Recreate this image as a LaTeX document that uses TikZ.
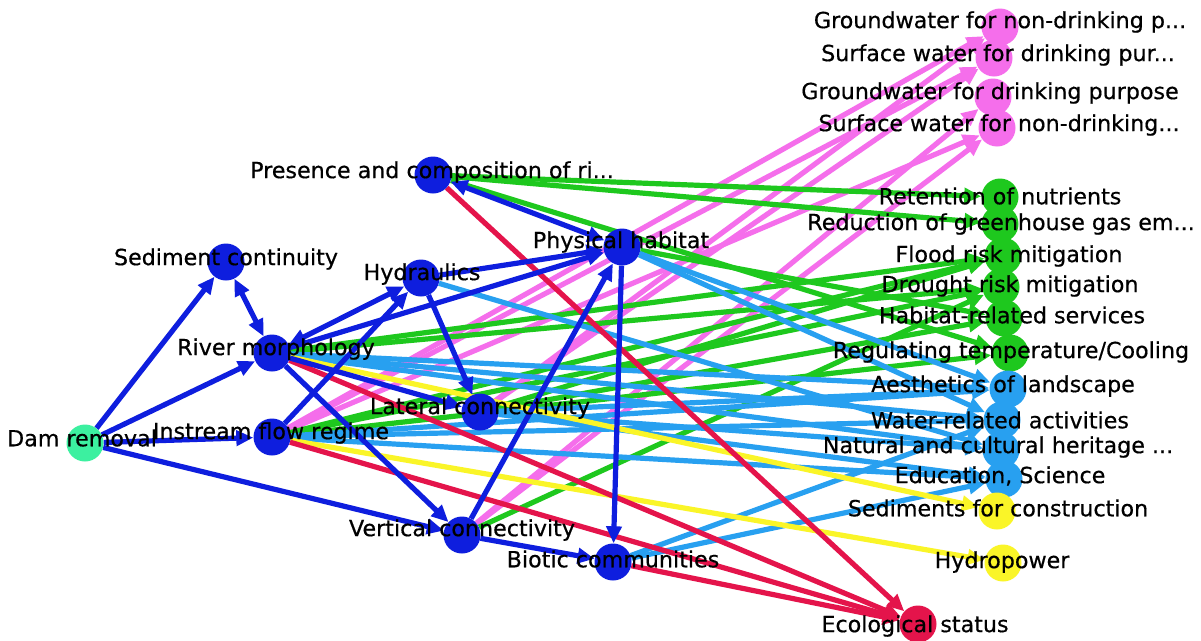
\documentclass[tikz,border=0pt]{standalone}
\usepackage{fontspec}
\setmainfont{DejaVu Sans}
\newfontfamily\labfont{DejaVu Sans}[FakeBold=0.5]
\usetikzlibrary{arrows.meta}
\definecolor{dblue}{RGB}{14,30,222}
\definecolor{egreen}{RGB}{30,200,30}
\definecolor{epink}{RGB}{245,110,235}
\definecolor{lblue}{RGB}{40,160,240}
\definecolor{eyellow}{RGB}{250,245,40}
\definecolor{ered}{RGB}{228,20,75}
\definecolor{mint}{RGB}{60,240,160}
\pgfdeclarelayer{edgelayer}
\pgfdeclarelayer{textlayer}
\pgfsetlayers{edgelayer,main,textlayer}
\begin{document}
\begin{tikzpicture}[x=1pt,y=-1pt,
  >={Triangle[length=17pt,width=15pt]},
  vtx/.style={circle,minimum size=37pt,inner sep=0pt,draw=none},
  lab/.style={inner sep=0pt,font=\labfont\fontsize{22.2}{26}\selectfont,text=black},
  ed/.style={line width=5.2pt,->},
  bd/.style={line width=5.2pt,<->}]
\useasboundingbox (0,0) rectangle (1201,640);

% driver and intermediate nodes
\node[vtx,fill=mint]  (dam)   at (85,443)  {};
\node[vtx,fill=dblue] (sed)   at (226,262) {};
\node[vtx,fill=dblue] (morph) at (272,353) {};
\node[vtx,fill=dblue] (flow)  at (272,437) {};
\node[vtx,fill=dblue] (hyd)   at (421,278) {};
\node[vtx,fill=dblue] (pres)  at (433,175) {};
\node[vtx,fill=dblue] (ph)    at (622,247) {};
\node[vtx,fill=dblue] (lat)   at (480,412) {};
\node[vtx,fill=dblue] (vert)  at (462,535) {};
\node[vtx,fill=dblue] (bio)   at (613,562) {};

% ecosystem services
\node[vtx,fill=epink] (gwnd) at (1000,27)  {};
\node[vtx,fill=epink] (swd)  at (994,58)   {};
\node[vtx,fill=epink] (gwd)  at (993,97)   {};
\node[vtx,fill=epink] (swnd) at (997,128)  {};
\node[vtx,fill=egreen] (ret)     at (1000,197) {};
\node[vtx,fill=egreen] (ghg)     at (1000,224) {};
\node[vtx,fill=egreen] (flood)   at (1003,256) {};
\node[vtx,fill=egreen] (drought) at (1001,287) {};
\node[vtx,fill=egreen] (habs)    at (1004,318) {};
\node[vtx,fill=egreen] (regt)    at (1010,353) {};
\node[vtx,fill=lblue] (aes) at (1008,389) {};
\node[vtx,fill=lblue] (wat) at (1002,420) {};
\node[vtx,fill=lblue] (nat) at (1001,450) {};
\node[vtx,fill=lblue] (edu) at (1004,479) {};
\node[vtx,fill=eyellow] (sedc)  at (997,511) {};
\node[vtx,fill=eyellow] (hydro) at (1003,563) {};
\node[vtx,fill=ered] (eco) at (918,624) {};

\begin{pgfonlayer}{edgelayer}
\fill[white] (0,0) rectangle (1201,640);
% pink: provisioning (water)
\draw[ed,epink] (flow) -- (gwnd);
\draw[ed,epink] (flow) -- (swd);
\draw[ed,epink] (flow) -- (swnd);
\draw[ed,epink] (lat) -- (gwnd);
\draw[ed,epink] (lat) -- (swd);
\draw[ed,epink] (vert) -- (gwd);
\draw[ed,epink] (vert) -- (swnd);
% green: regulating services
\draw[ed,egreen] (pres) -- (ret);
\draw[ed,egreen] (pres) -- (ghg);
\draw[ed,egreen] (pres) -- (regt);
\draw[ed,egreen] (ph) -- (habs);
\draw[ed,egreen] (morph) -- (flood);
\draw[ed,egreen] (morph) -- (drought);
\draw[ed,egreen] (flow) -- (flood);
\draw[ed,egreen] (flow) -- (drought);
\draw[ed,egreen] (flow) -- (regt);
\draw[ed,egreen] (lat) -- (flood);
\draw[ed,egreen] (lat) -- (habs);
\draw[ed,egreen] (vert) -- (drought);
% light blue: cultural services
\draw[ed,lblue] (morph) -- (aes);
\draw[ed,lblue] (morph) -- (wat);
\draw[ed,lblue] (morph) -- (nat);
\draw[ed,lblue] (flow) -- (aes);
\draw[ed,lblue] (flow) -- (wat);
\draw[ed,lblue] (flow) -- (edu);
\draw[ed,lblue] (lat) -- (aes);
\draw[ed,lblue] (lat) -- (nat);
\draw[ed,lblue] (lat) -- (edu);
\draw[ed,lblue] (hyd) -- (nat);
\draw[ed,lblue] (ph) -- (aes);
\draw[ed,lblue] (ph) -- (wat);
\draw[ed,lblue] (bio) -- (wat);
\draw[ed,lblue] (bio) -- (edu);
% yellow: materials and energy
\draw[ed,eyellow] (morph) -- (sedc);
\draw[ed,eyellow] (flow) -- (hydro);
% red: ecological status
\draw[ed,ered] (pres) -- (eco);
\draw[ed,ered] (morph) -- (eco);
\draw[ed,ered] (flow) -- (eco);
\draw[ed,ered] (bio) -- (eco);
% dark blue: physical and biological processes
\draw[ed,dblue] (dam) -- (sed);
\draw[ed,dblue] (dam) -- (morph);
\draw[ed,dblue] (dam) -- (flow);
\draw[ed,dblue] (dam) -- (vert);
\draw[bd,dblue] (sed) -- (morph);
\draw[bd,dblue] (hyd) -- (morph);
\draw[ed,dblue] (morph) -- (ph);
\draw[ed,dblue] (flow) -- (hyd);
\draw[ed,dblue] (hyd) -- (lat);
\draw[ed,dblue] (hyd) -- (ph);
\draw[ed,dblue] (morph) -- (lat);
\draw[ed,dblue] (morph) -- (vert);
\draw[bd,dblue] (pres) -- (ph);
\draw[ed,dblue] (vert) -- (ph);
\draw[ed,dblue] (ph) -- (bio);
\draw[ed,dblue] (vert) -- (bio);
\end{pgfonlayer}

\begin{pgfonlayer}{textlayer}
\node[lab] (tdam)   at (82,438)  {Dam removal};
\node[lab] (tsed)   at (226,259) {Sediment continuity};
\node[lab] (tmorph) at (276,349) {River morphology};
\node[lab] (tflow)  at (271,433) {Instream flow regime};
\node[lab] (thyd)   at (422,274) {Hydraulics};
\node[lab] (tpres)  at (432,172) {Presence and composition of ri...};
\node[lab] (tph)    at (621,242) {Physical habitat};
\node[lab] (tlat)   at (480,408) {Lateral connectivity};
\node[lab] (tvert)  at (462,530) {Vertical connectivity};
\node[lab] (tbio)   at (613,559) {Biotic communities};
\node[lab] (tgwnd)  at (1000,22)  {Groundwater for non-drinking p...};
\node[lab] (tswd)   at (998,55)   {Surface water for drinking pur...};
\node[lab] (tgwd)   at (990,93)   {Groundwater for drinking purpose};
\node[lab] (tswnd)  at (999,125)  {Surface water for non-drinking...};
\node[lab] (tret)   at (1000,196) {Retention of nutrients};
\node[lab] (tghg)   at (1001,224) {Reduction of greenhouse gas em...};
\node[lab] (tflood) at (1009,256) {Flood risk mitigation};
\node[lab] (tdro)   at (1010,286) {Drought risk mitigation};
\node[lab] (thabs)  at (1012,315) {Habitat-related services};
\node[lab] (tregt)  at (1011,352) {Regulating temperature/Cooling};
\node[lab] (taes)   at (1003,386) {Aesthetics of landscape};
\node[lab] (twat)   at (1000,420) {Water-related activities};
\node[lab] (tnat)   at (998,447)  {Natural and cultural heritage ...};
\node[lab] (tedu)   at (1000,476) {Education, Science};
\node[lab] (tsedc)  at (998,508)  {Sediments for construction};
\node[lab] (thydro) at (1002,562) {Hydropower};
\node[lab] (teco)   at (915,626)  {Ecological status};
\end{pgfonlayer}
\end{tikzpicture}
\end{document}
